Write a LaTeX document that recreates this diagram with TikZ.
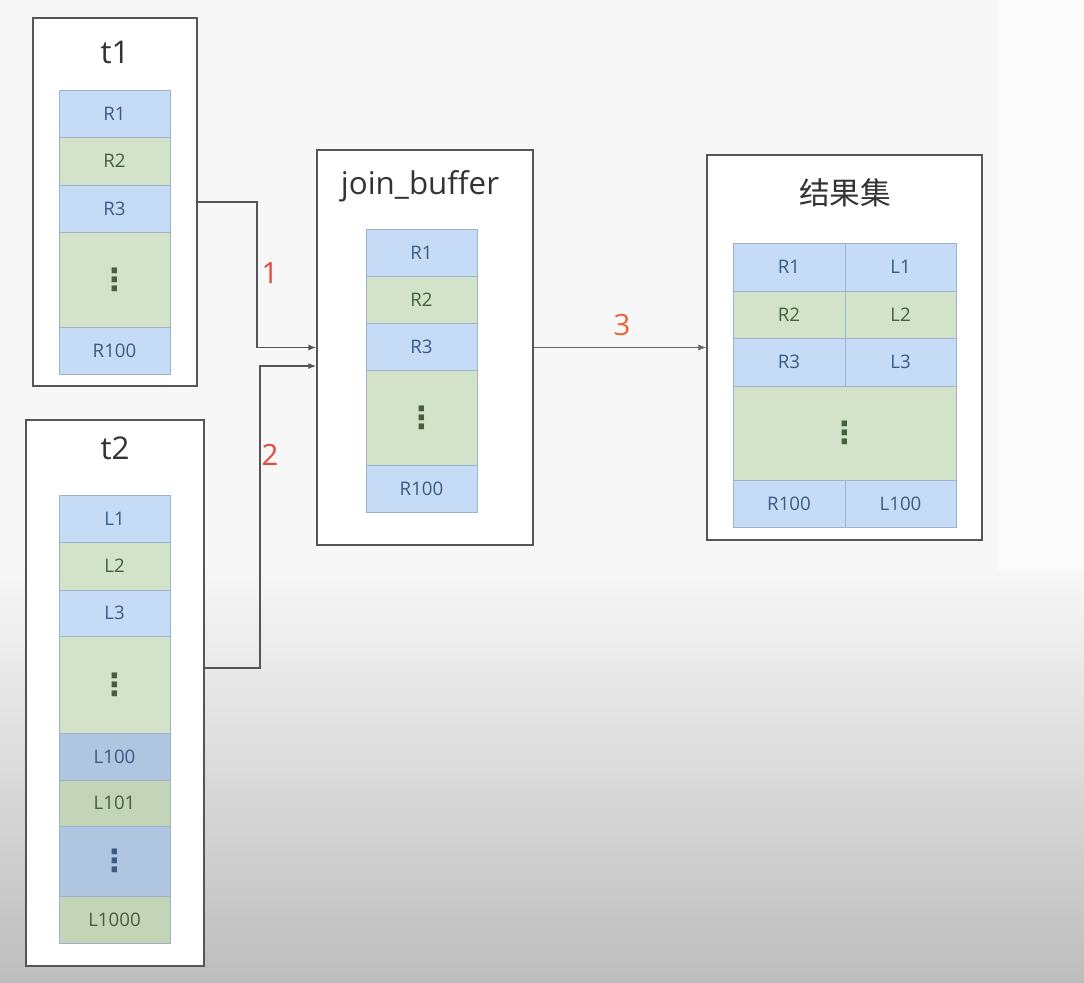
\documentclass[tikz,border=0pt]{standalone}
\usepackage{fontspec}
\setmainfont{Open Sans}
\newfontfamily\cjk{Noto Sans CJK SC}
\newfontfamily\symf{DejaVu Sans}
\usetikzlibrary{fit,arrows.meta}

\definecolor{bgtop}{HTML}{F7F7F7}
\definecolor{bgbot}{HTML}{BDBDBD}
\definecolor{boxline}{HTML}{555555}
\definecolor{cellline}{HTML}{9DB2CC}
\definecolor{cblue}{HTML}{C6DCF6}
\definecolor{cgreen}{HTML}{D3E3C9}
\definecolor{cbluedk}{HTML}{AFC5E0}
\definecolor{cgreendk}{HTML}{C3D4B7}
\definecolor{tblue}{HTML}{3B5B85}
\definecolor{tgreen}{HTML}{44603C}
\definecolor{numred}{HTML}{E04A3F}
\definecolor{numorange}{HTML}{E8653A}

\newcommand{\vd}{{\symf\bfseries\fontsize{23}{23}\selectfont ⋮}}

\begin{document}
\begin{tikzpicture}[x=0.75pt,y=-0.75pt,
		box/.style={draw=boxline, line width=1.1pt, fill=white, inner sep=0pt},
		cell/.style={draw=cellline, line width=0.6pt, inner sep=0pt, font=\fontsize{14}{16}\selectfont},
		colL/.style={cell, minimum width=83.25pt},
		bl/.style={fill=cblue, text=tblue},
		gr/.style={fill=cgreen, text=tgreen},
		bld/.style={fill=cbluedk, text=tblue},
		grd/.style={fill=cgreendk, text=tgreen},
		title/.style={text=black!80, font=\fontsize{23.5}{27}\selectfont},
		num/.style={font=\fontsize{22}{26}\selectfont},
		flow/.style={draw=boxline, line width=0.9pt, -{Latex[length=6pt,width=4.5pt]}}]

		% sfondo
		\fill[bgtop] (0,0) rectangle (1084,570);
		\fill[white!50!bgtop] (998,0) rectangle (1084,570);
		\shade[top color=bgtop, bottom color=bgbot] (0,570) rectangle (1084,982);
		\useasboundingbox (0,0) rectangle (1084,982);

		% t1
		\node[box, fit={(33,18) (197,386)}] (t1box) {};
		\node[title] (t1lab) at (115,52) {t1};
		\foreach \n/\lab/\ya/\yb/\s in {1/R1/90/137/bl, 2/R2/137/185/gr, 3/R3/185/232/bl, 4/\vd/232/327/gr, 5/R100/327/374/bl}
			\node[colL, \s, minimum height={(\yb-\ya)*0.75pt}] (t1c\n) at (114.5,{(\ya+\yb)/2}) {\lab};

		% t2
		\node[box, fit={(26,420) (204,966)}] (t2box) {};
		\node[title] (t2lab) at (115,448) {t2};
		\foreach \n/\lab/\ya/\yb/\s in {1/L1/495/542/bl, 2/L2/542/590/gr, 3/L3/590/636/bl, 4/\vd/636/733/gr,
				5/L100/733/780/bld, 6/L101/780/826/grd, 7/\vd/826/896/bld, 8/L1000/896/943/grd}
			\node[colL, \s, minimum height={(\yb-\ya)*0.75pt}] (t2c\n) at (114.5,{(\ya+\yb)/2}) {\lab};

		% join_buffer
		\node[box, fit={(317,150) (533,545)}] (jbuf) {};
		\node[title] (jblab) at (420,186) {join\_buffer};
		\foreach \n/\lab/\ya/\yb/\s in {1/R1/229/276/bl, 2/R2/276/323/gr, 3/R3/323/370/bl, 4/\vd/370/465/gr, 5/R100/465/512/bl}
			\node[colL, \s, minimum height={(\yb-\ya)*0.75pt}] (jbc\n) at (421.5,{(\ya+\yb)/2}) {\lab};

		% risultato
		\node[box, fit={(707,155) (982,540)}] (res) {};
		\node[title, font=\cjk\fontsize{23}{27}\selectfont] (reslab) at (845,193) {结果集};
		\foreach \n/\la/\lb/\ya/\yb/\s in {1/R1/L1/243/291/bl, 2/R2/L2/291/338/gr, 3/R3/L3/338/386/bl, 5/R100/L100/480/527/bl}{
			\node[cell, \s, minimum width=84pt, minimum height={(\yb-\ya)*0.75pt}] (resl\n) at (789,{(\ya+\yb)/2}) {\la};
			\node[cell, \s, minimum width=83.25pt, minimum height={(\yb-\ya)*0.75pt}] (resr\n) at (900.5,{(\ya+\yb)/2}) {\lb};
		}
		\node[cell, gr, minimum width=167.25pt, minimum height=70.5pt] (resdots) at (844.5,433) {\vd};

		% frecce
		\coordinate (k1) at (257,202);
		\coordinate (k2) at (260,668);
		\draw[flow] (t1box.east |- k1) -- (k1) |- (jbuf.west); % da t1
		\draw[flow] (t2box.east |- k2) -- (k2) |- ([yshift=-13.9pt]jbuf.west); % da t2
		\draw[flow, line width=0.6pt, draw=black!60] (jbuf.east) -- (res.west);

		\node[num, text=numred] (n1) at (270,273) {1};
		\node[num, text=numred] (n2) at (270,455) {2};
		\node[num, text=numorange] (n3) at (622,325) {3};
\end{tikzpicture}
\end{document}
